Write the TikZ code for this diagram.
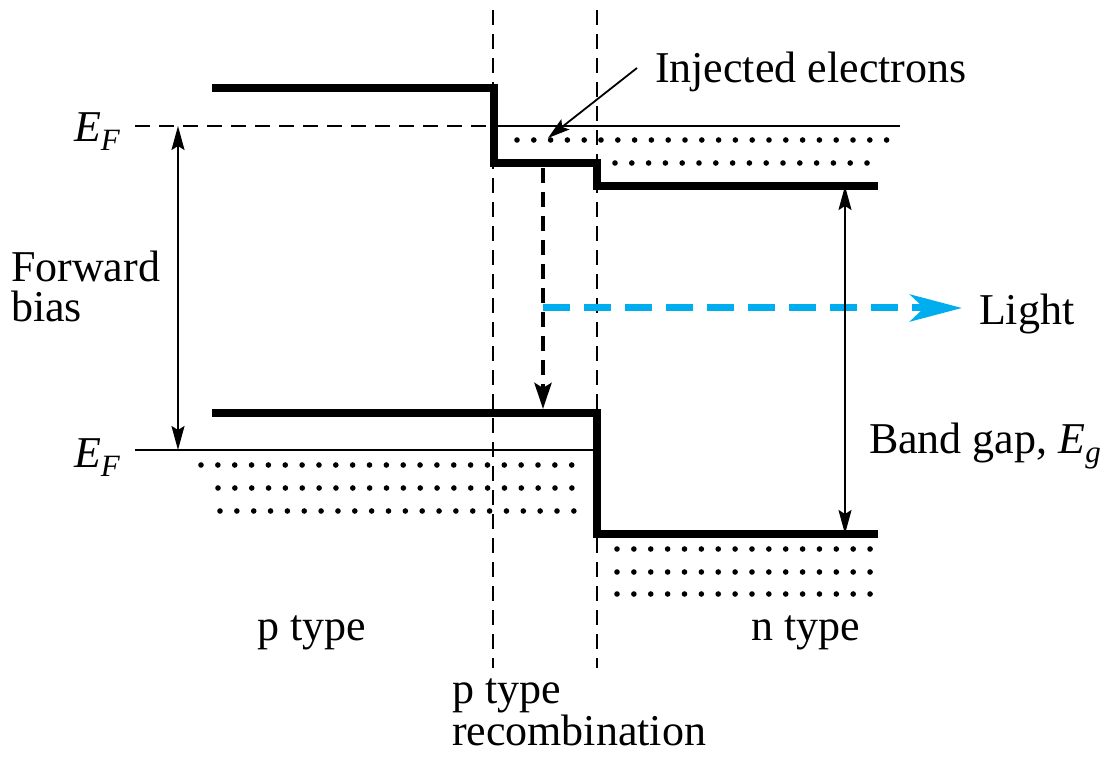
\documentclass[tikz,border=0pt]{standalone}
\usepackage{fontspec}
\setmainfont{Liberation Serif}
\usetikzlibrary{arrows.meta}
\definecolor{lightblue}{HTML}{00AEEF}
\begin{document}
\begin{tikzpicture}[x=1pt,y=-1pt,
  every node/.style={font=\fontsize{44}{44}\selectfont, inner sep=0pt, outer sep=0pt, anchor=base west},
  band/.style={line width=8pt, line join=miter},
  thinline/.style={line width=1.6pt},
  vdash/.style={line width=1.6pt, dash pattern=on 15pt off 9pt},
  dimarrow/.style={line width=1.8pt, {Stealth[length=24pt,width=13pt,inset=4pt]}-{Stealth[length=24pt,width=13pt,inset=4pt]}},
  recomb/.style={line width=4.5pt, dash pattern=on 15pt off 9pt, -{Stealth[length=26pt,width=17pt,inset=5pt]}},
  lightarrow/.style={line width=7pt, lightblue, dash pattern=on 27pt off 14pt, -{Stealth[length=52pt,width=27pt,inset=14pt]}},
  leader/.style={line width=1.8pt, -{Stealth[length=22pt,width=13pt,inset=4pt]}},
  dot/.style={fill=black}
]
\useasboundingbox (0,0) rectangle (1103,759);

% coordinates
\coordinate (vl1t) at (493,10);  \coordinate (vl1b) at (493,668);
\coordinate (vl2t) at (597,10);  \coordinate (vl2b) at (597,668);
\coordinate (ef1a) at (135,126); \coordinate (ef1b) at (490,126); \coordinate (ef1c) at (900,126);
\coordinate (ef2a) at (135,450); \coordinate (ef2b) at (595,450);
\coordinate (fbt) at (178,126);  \coordinate (fbb) at (178,450);
\coordinate (bgt) at (845,186);  \coordinate (bgb) at (845,534);
\coordinate (rct) at (543,168);  \coordinate (rcb) at (543,409);
\coordinate (lts) at (543,308);  \coordinate (lte) at (962,308);
\coordinate (ina) at (637,68);   \coordinate (inb) at (548,138);

% vertical dashed lines
\draw[vdash] (vl1t) -- (vl1b);
\draw[vdash] (vl2t) -- (vl2b);

% Fermi levels
\draw[thinline, dash pattern=on 15pt off 9pt] (ef1a) -- (ef1b);
\draw[thinline] (ef1b) -- (ef1c);
\draw[thinline] (ef2a) -- (ef2b);

% dots
\foreach \i in {0,...,22} \fill[dot] (517+16.8*\i,140) circle (2.8pt);
\foreach \i in {0,...,15} \fill[dot] (615+16.8*\i,163) circle (2.8pt);
\foreach \i in {0,...,22} \fill[dot] (201+16.85*\i,465) circle (2.8pt);
\foreach \i in {0,...,21} \fill[dot] (218+16.85*\i,488) circle (2.8pt);
\foreach \i in {0,...,21} \fill[dot] (220+16.85*\i,511) circle (2.8pt);
\foreach \i in {0,...,15} \fill[dot] (617+16.87*\i,549) circle (2.8pt);
\foreach \i in {0,...,15} \fill[dot] (617+16.87*\i,572) circle (2.8pt);
\foreach \i in {0,...,15} \fill[dot] (617+16.87*\i,594) circle (2.8pt);

% bands
\draw[band] (212,88) -- (494,88) -- (494,163) -- (597,163) -- (597,186) -- (878,186);
\draw[band] (212,413) -- (597,413) -- (597,534) -- (878,534);

% arrows
\draw[lightarrow] (lts) -- (lte);
\draw[dimarrow] (fbt) -- (fbb);
\draw[dimarrow] (bgt) -- (bgb);
\draw[recomb] (rct) -- (rcb);
\draw[leader] (ina) -- (inb);

% labels
\node (ef1) at (74,142) {\itshape E\raisebox{-9pt}{\fontsize{31}{31}\selectfont F}};
\node (ef2) at (74,467) {\itshape E\raisebox{-9pt}{\fontsize{31}{31}\selectfont F}};
\node (fw) at (11,282) {Forward};
\node (bias) at (11,322) {bias};
\node (inj) at (655,83) {Injected electrons};
\node (light) at (979,325) {Light};
\node (bg) at (869,453) {Band gap, \textit{E}\raisebox{-9pt}{\fontsize{31}{31}\selectfont\itshape g}};
\node (pt) at (257,640) {p type};
\node (nt) at (751,640) {n type};
\node (pr1) at (452,703) {p type};
\node (pr2) at (452,745) {recombination};
\end{tikzpicture}
\end{document}
